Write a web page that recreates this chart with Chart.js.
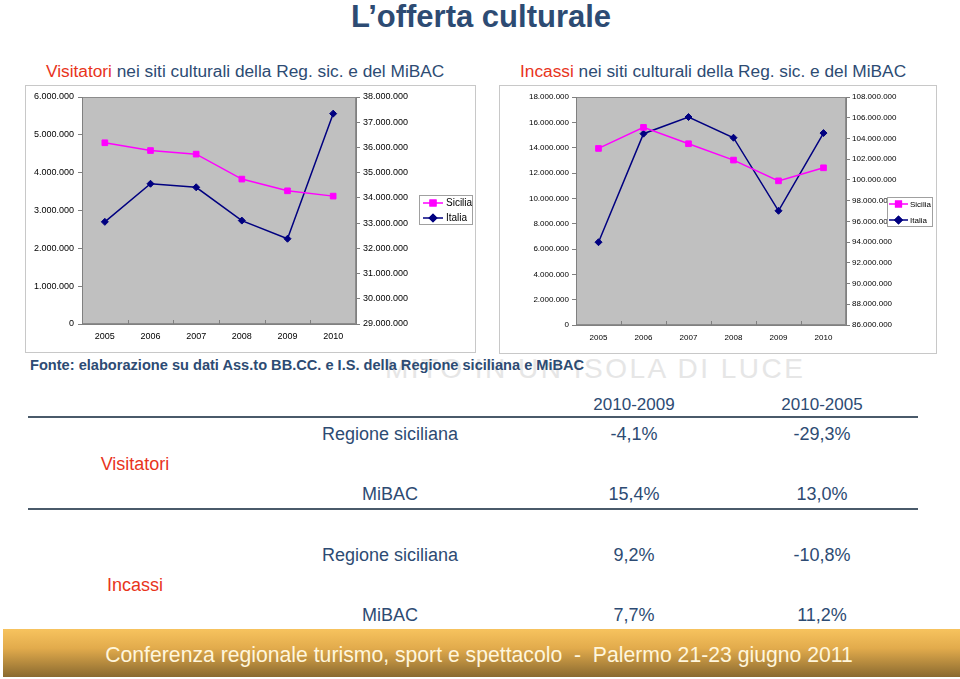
<!DOCTYPE html>
<html lang="it">
<head>
<meta charset="utf-8">
<title>L'offerta culturale</title>
<script src="https://cdn.jsdelivr.net/npm/chart.js@4.4.1/dist/chart.umd.min.js"></script>
<style>
body { margin: 0; background: #fff; font-family: "Liberation Sans", Arial, sans-serif; }
#slide { position: relative; width: 960px; height: 679px; overflow: hidden; background: #fff; }
.t { position: absolute; white-space: nowrap; line-height: 1; color: #2d4b73; }
.c { transform: translate(-50%, -50%); }
.l { transform: translateY(-50%); }
.red { color: #e8341c; }
.box { position: absolute; border: 1px solid #c8c8c8; box-sizing: border-box; }
canvas { position: absolute; }
.rule { position: absolute; left: 28px; width: 890px; height: 2px; background: #4a5a6a; }
#footer { position: absolute; left: 3px; top: 629px; width: 957px; height: 48px;
  background: linear-gradient(to bottom, #f7c35e 0%, #e2ab4c 40%, #8a6a30 100%); }
</style>
</head>
<body>
<div id="slide">
  <div class="t" style="left:385px;top:383px;font-size:28px;letter-spacing:2.5px;color:#e6e6e6;transform:translateY(-100%)">MITO IN UN ISOLA DI LUCE</div>

  <div class="t c" style="left:481px;top:16px;font-size:31px;font-weight:bold;">L’offerta culturale</div>

  <div class="t l" style="left:46px;top:72px;font-size:17.3px;"><span class="red">Visitatori</span> nei siti culturali della Reg. sic. e del MiBAC</div>
  <div class="t l" style="left:520px;top:72px;font-size:17.3px;"><span class="red">Incassi</span> nei siti culturali della Reg. sic. e del MiBAC</div>

  <div class="box" style="left:25px;top:85px;width:451px;height:268px;"></div>
  <canvas id="graficoVisitatori" width="450" height="267" style="left:25px;top:85px;"></canvas>

  <div class="box" style="left:499px;top:85px;width:438px;height:269px;"></div>
  <canvas id="graficoIncassi" width="437" height="268" style="left:499px;top:85px;"></canvas>

  <div class="t l" style="left:30px;top:365px;font-size:14.6px;font-weight:bold;">Fonte: elaborazione su dati Ass.to BB.CC. e I.S. della Regione siciliana e MiBAC</div>

  <!-- tabella variazioni -->
  <div class="t c" style="left:634px;top:404px;font-size:17px;">2010-2009</div>
  <div class="t c" style="left:822px;top:404px;font-size:17px;">2010-2005</div>
  <div class="rule" style="top:416px;"></div>

  <div class="t c" style="left:390px;top:434px;font-size:18px;">Regione siciliana</div>
  <div class="t c" style="left:634px;top:434px;font-size:18px;">-4,1%</div>
  <div class="t c" style="left:822px;top:434px;font-size:18px;">-29,3%</div>
  <div class="t c red" style="left:135px;top:464px;font-size:18px;">Visitatori</div>
  <div class="t c" style="left:390px;top:494px;font-size:18px;">MiBAC</div>
  <div class="t c" style="left:634px;top:494px;font-size:18px;">15,4%</div>
  <div class="t c" style="left:822px;top:494px;font-size:18px;">13,0%</div>
  <div class="rule" style="top:508px;"></div>

  <div class="t c" style="left:390px;top:555px;font-size:18px;">Regione siciliana</div>
  <div class="t c" style="left:634px;top:555px;font-size:18px;">9,2%</div>
  <div class="t c" style="left:822px;top:555px;font-size:18px;">-10,8%</div>
  <div class="t c red" style="left:135px;top:585px;font-size:18px;">Incassi</div>
  <div class="t c" style="left:390px;top:615px;font-size:18px;">MiBAC</div>
  <div class="t c" style="left:634px;top:615px;font-size:18px;">7,7%</div>
  <div class="t c" style="left:822px;top:615px;font-size:18px;">11,2%</div>

  <div id="footer"></div>
  <div class="t c" style="left:479px;top:655px;font-size:21.2px;color:#fff6dc;">Conferenza regionale turismo, sport e spettacolo &nbsp;-&nbsp; Palermo 21-23 giugno 2011</div>
</div>

<script>
var anni = ['2005', '2006', '2007', '2008', '2009', '2010'];

// Visitatori: Sicilia (asse sinistro), Italia/MiBAC (asse destro)
var visitatoriSicilia = [4790000, 4585000, 4490000, 3830000, 3520000, 3380000];
var visitatoriItalia = [33050000, 34560000, 34420000, 33100000, 32380000, 37340000];

// Incassi: Sicilia (asse sinistro), Italia/MiBAC (asse destro)
var incassiSicilia = [13940000, 15600000, 14310000, 13020000, 11380000, 12410000];
var incassiItalia = [93990000, 104460000, 106070000, 104070000, 97020000, 104520000];

var FONT = '"Liberation Sans", Arial, sans-serif';

function formatta(v) {
    return String(v).replace(/\B(?=(\d{3})+(?!\d))/g, '.');
}

// sfondo grigio dell'area del grafico + bordo + tacche interne sull'asse x
var pluginArea = {
    id: 'areaGrigia',
    beforeDraw: function (chart) {
        var a = chart.chartArea;
        var ctx = chart.ctx;
        ctx.save();
        ctx.fillStyle = '#c0c0c0';
        ctx.fillRect(a.left, a.top, a.right - a.left, a.bottom - a.top);
        ctx.strokeStyle = '#8c8c8c';
        ctx.lineWidth = 1;
        ctx.strokeRect(a.left + 0.5, a.top + 0.5, a.right - a.left - 1, a.bottom - a.top - 1);
        ctx.restore();
    },
    beforeDatasetsDraw: function (chart) {
        var x = chart.scales.x;
        var ctx = chart.ctx;
        ctx.save();
        ctx.strokeStyle = '#808080';
        ctx.lineWidth = 1;
        for (var i = 1; i < anni.length; i++) {
            var px = Math.round(x.getPixelForValue(i - 0.5)) + 0.5;
            ctx.beginPath();
            ctx.moveTo(px, chart.chartArea.bottom);
            ctx.lineTo(px, chart.chartArea.bottom - 4);
            ctx.stroke();
        }
        ctx.restore();
    }
};

// legenda stile Excel dentro un riquadro
var pluginLegenda = {
    id: 'legendaBox',
    afterDraw: function (chart, args, opts) {
        if (!opts || !opts.w) return;
        var ctx = chart.ctx;
        ctx.save();
        ctx.fillStyle = '#ffffff';
        ctx.fillRect(opts.x, opts.y, opts.w, opts.h);
        ctx.strokeStyle = '#a0a0a0';
        ctx.lineWidth = 1;
        ctx.strokeRect(opts.x + 0.5, opts.y + 0.5, opts.w - 1, opts.h - 1);
        ctx.font = opts.font + 'px ' + FONT;
        ctx.textBaseline = 'middle';
        chart.data.datasets.forEach(function (ds, i) {
            var y = opts.rows[i];
            ctx.strokeStyle = ds.borderColor;
            ctx.lineWidth = 1.5;
            ctx.beginPath();
            ctx.moveTo(opts.x1, y);
            ctx.lineTo(opts.x2, y);
            ctx.stroke();
            Chart.helpers.drawPoint(ctx, {
                pointStyle: ds.pointStyle,
                radius: ds.pointRadius,
                borderWidth: 1
            }, (opts.x1 + opts.x2) / 2, y);
            ctx.fillStyle = ds.borderColor;
            ctx.strokeStyle = ds.borderColor;
            ctx.fill();
            ctx.stroke();
            ctx.fillStyle = '#000000';
            ctx.fillText(ds.label, opts.tx, y + 0.5);
        });
        ctx.restore();
    }
};

function creaGrafico(id, sicilia, italia, cfg) {
    var ctx = document.getElementById(id).getContext('2d');
    var assiY = {
        grid: { drawOnChartArea: false, tickLength: 4, color: '#808080' },
        border: { color: '#808080' }
    };
    return new Chart(ctx, {
        type: 'line',
        data: {
            labels: anni,
            datasets: [{
                label: 'Sicilia',
                data: sicilia,
                yAxisID: 'ySx',
                borderColor: '#ff00ff',
                backgroundColor: '#ff00ff',
                borderWidth: 1.5,
                pointStyle: 'rect',
                pointRadius: 4,
                pointBorderWidth: 1,
                tension: 0
            }, {
                label: 'Italia',
                data: italia,
                yAxisID: 'yDx',
                borderColor: '#000080',
                backgroundColor: '#000080',
                borderWidth: 1.5,
                pointStyle: 'rectRot',
                pointRadius: 3.5,
                pointBorderWidth: 1,
                tension: 0
            }]
        },
        options: {
            responsive: false,
            animation: false,
            layout: { padding: { top: 12, left: 0, right: 0, bottom: 0 } },
            scales: {
                x: {
                    offset: true,
                    grid: { offset: true, drawOnChartArea: false, drawTicks: false },
                    border: { color: '#808080' },
                    ticks: { color: '#000', padding: cfg.xPad, font: { family: FONT, size: cfg.font } },
                    afterFit: function (s) { s.height = 28; }
                },
                ySx: Object.assign({}, assiY, {
                    position: 'left',
                    min: cfg.sx[0], max: cfg.sx[1],
                    ticks: { stepSize: cfg.sx[2], color: '#000', padding: cfg.padSx, font: { family: FONT, size: cfg.font }, callback: formatta },
                    afterFit: function (s) { s.width = cfg.wSx; }
                }),
                yDx: Object.assign({}, assiY, {
                    position: 'right',
                    min: cfg.dx[0], max: cfg.dx[1],
                    ticks: { stepSize: cfg.dx[2], color: '#000', padding: cfg.padDx, font: { family: FONT, size: cfg.font }, callback: formatta },
                    afterFit: function (s) { s.width = cfg.wDx; }
                })
            },
            plugins: {
                legend: { display: false },
                tooltip: { enabled: false },
                legendaBox: cfg.legenda
            }
        },
        plugins: [pluginArea, pluginLegenda]
    });
}

document.addEventListener('DOMContentLoaded', function () {
    creaGrafico('graficoVisitatori', visitatoriSicilia, visitatoriItalia, {
        font: 9, xPad: 7, padSx: 4, padDx: 3, wSx: 57, wDx: 119,
        sx: [0, 6000000, 1000000],
        dx: [29000000, 38000000, 1000000],
        legenda: { x: 394, y: 110, w: 54, h: 30, font: 10, x1: 398, x2: 418, tx: 421, rows: [118, 133] }
    });
    creaGrafico('graficoIncassi', incassiSicilia, incassiItalia, {
        font: 8, xPad: 8, padSx: 3, padDx: 2, wSx: 77, wDx: 90,
        sx: [0, 18000000, 2000000],
        dx: [86000000, 108000000, 2000000],
        legenda: { x: 388, y: 112, w: 46, h: 30, font: 8, x1: 390, x2: 409, tx: 411, rows: [119, 135] }
    });
});
</script>
</body>
</html>
